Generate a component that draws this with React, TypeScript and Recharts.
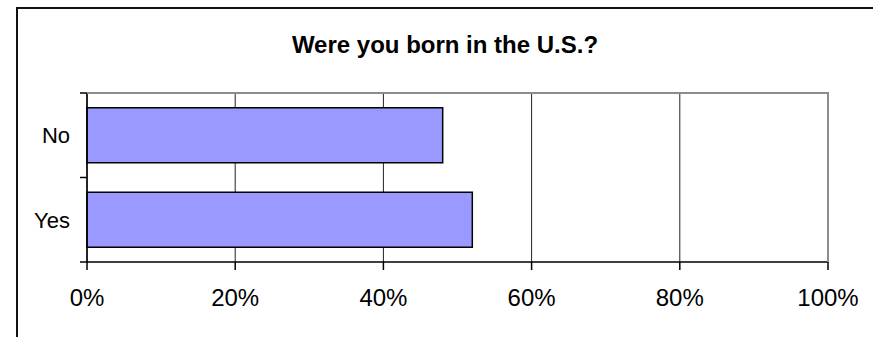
import React from 'react';
import { BarChart, Bar, XAxis, YAxis, CartesianGrid } from 'recharts';

// Survey answers and their share of respondents (%)
const answers = ['No', 'Yes'];
const shares = [48, 52];
const percentTicks = [0, 20, 40, 60, 80, 100];
const title = 'Were you born in the U.S.?';

const data = answers.map((name, i) => ({ name, value: shares[i] }));

const FONT = '"Liberation Sans", Arial, Helvetica, sans-serif';
const FRAME_GREY = '#8c8c8c';
const Y_TICK_SIZE = 6;
const Y_TICK_MARGIN = 11;

// Category label plus short tick marks on the band boundaries (between categories)
const CategoryTick = (props: any) => {
  const { x, y, payload, index, visibleTicksCount } = props;
  const half = payload && typeof payload.offset === 'number' ? payload.offset : 0;
  const axisX = x + Y_TICK_SIZE + Y_TICK_MARGIN;
  const isLast = index === visibleTicksCount - 1;
  return (
    <g>
      <text x={x} y={y} dy="0.355em" textAnchor="end" fill="#000" fontSize={22} fontFamily={FONT}>
        {payload.value}
      </text>
      <line x1={axisX - 7} x2={axisX} y1={y - half} y2={y - half} stroke="#000" strokeWidth={1.5} />
      {isLast && <line x1={axisX - 7} x2={axisX} y1={y + half} y2={y + half} stroke="#000" strokeWidth={1.5} />}
    </g>
  );
};

export default function App() {
  return (
    <div style={{ position: 'fixed', left: 0, top: 0, width: 873, height: 337, background: '#fff', fontFamily: FONT }}>
      {/* chart area frame (open to the right and bottom) */}
      <div
        style={{
          position: 'absolute',
          left: 16,
          top: 7,
          right: -10,
          bottom: -10,
          borderTop: '2px solid #111',
          borderLeft: '2px solid #111',
        }}
      />
      <div
        style={{
          position: 'absolute',
          left: 17,
          width: 856,
          top: 31,
          textAlign: 'center',
          fontSize: 24,
          fontWeight: 'bold',
          color: '#000',
          lineHeight: '28px',
        }}
      >
        {title}
      </div>
      <div style={{ position: 'absolute', left: 0, top: 0 }}>
        <BarChart
          width={873}
          height={337}
          data={data}
          layout="vertical"
          margin={{ top: 93, right: 45, bottom: 35, left: 27 }}
          barCategoryGap="17.5%"
        >
          <CartesianGrid horizontal={false} vertical stroke="#222" strokeWidth={1} />
          <XAxis
            type="number"
            domain={[0, 100]}
            ticks={percentTicks}
            tickFormatter={(v: number) => `${v}%`}
            tickSize={8}
            tickMargin={19}
            height={40}
            interval={0}
            axisLine={{ stroke: '#000', strokeWidth: 1.5 }}
            tickLine={{ stroke: '#000', strokeWidth: 1.5 }}
            tick={{ fill: '#000', fontSize: 24, fontFamily: FONT }}
          />
          <YAxis
            type="category"
            dataKey="name"
            width={60}
            interval={0}
            tickLine={false}
            tickSize={Y_TICK_SIZE}
            tickMargin={Y_TICK_MARGIN}
            axisLine={{ stroke: '#000', strokeWidth: 1.5 }}
            tick={<CategoryTick />}
          />
          <Bar dataKey="value" fill="#9999ff" stroke="#000" strokeWidth={1.5} isAnimationActive={false} />
        </BarChart>
      </div>
      {/* plot frame: grey top and right edges */}
      <div style={{ position: 'absolute', left: 87, top: 92, width: 742, height: 2, background: FRAME_GREY }} />
      <div style={{ position: 'absolute', left: 827, top: 92, width: 2, height: 170, background: FRAME_GREY }} />
    </div>
  );
}
